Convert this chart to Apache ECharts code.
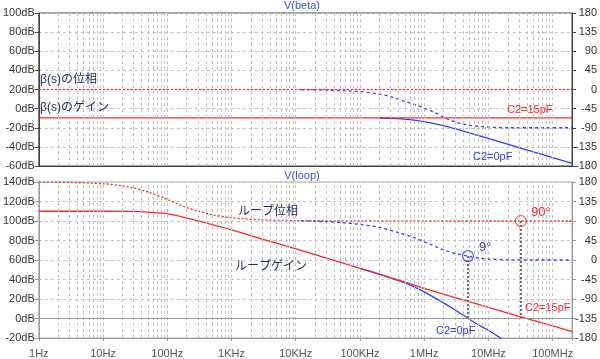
<!DOCTYPE html>
<html><head><meta charset="utf-8">
<script src="https://cdn.jsdelivr.net/npm/echarts@6/dist/echarts.min.js"></script>
<style>html,body{margin:0;padding:0;background:#fff}#c{width:600px;height:359px}</style>
</head><body><div id="c"></div>
<script>
// ---- axis ticks ----
const xTickValues = [1, 10, 100, 1e3, 1e4, 1e5, 1e6, 1e7, 1e8];
const xTickLabels = ['1Hz', '10Hz', '100Hz', '1KHz', '10KHz', '100KHz', '1MHz', '10MHz', '100MHz'];

// ---- top pane: V(beta) ----
const betaGain15F = [1, 2e8];
const betaGain15 = [-9.6, -9.6];
const betaPhase15F = [1, 2e8];
const betaPhase15 = [0, 0];
const betaGain0F = [2e5, 5e5, 1e6, 2e6, 5e6, 1e7, 2e7, 5e7, 1e8, 2e8];
const betaGain0 = [-9.8, -10.9, -13.5, -17.9, -25.3, -31.2, -37.2, -45.2, -51.2, -57.2];
const betaPhase0F = [1.2e4, 3e4, 1e5, 2e5, 3e5, 5e5, 8e5, 1e6, 1.5e6, 2e6, 3e6, 5e6, 1e7, 2e7, 2e8];
const betaPhase0 = [-0.5, -1.5, -5, -11, -17, -28, -38, -44, -55, -65, -76, -84, -88.5, -90, -90];

// ---- bottom pane: V(loop) ----
const loopGain15F = [1, 10, 30, 50, 100, 200, 300, 500, 1e3, 3e3, 1e4, 3e4, 1e5, 3e5, 1e6, 3e6, 1e7, 3e7, 1e8, 2e8];
const loopGain15 = [110, 110, 109.8, 109, 107.5, 103, 100.2, 96.3, 91, 81.5, 71.5, 62, 51.5, 42, 31, 21.5, 11.5, 2.2, -7.5, -13.5];
const loopPhase15F = [1, 3, 10, 20, 30, 50, 100, 200, 300, 500, 1e3, 3e3, 1e4, 1e5, 2e8];
const loopPhase15 = [180, 179, 176, 171, 166, 157, 140, 121, 113, 104.5, 97.5, 92.5, 91, 90.2, 90];
const loopGain0F = [1e5, 2e5, 5e5, 1e6, 2e6, 3e6, 5e6, 7e6, 1e7, 1.5e7, 1.7e7];
const loopGain0 = [51.4, 45.3, 36.5, 27.3, 16, 9, -0.5, -6.5, -12, -19.5, -22];
const loopPhase0F = [1.2e4, 3e4, 5e4, 1e5, 2e5, 4e5, 7e5, 1e6, 1.3e6, 2e6, 3e6, 4.8e6, 7e6, 1e7, 2e7, 5e7, 2e8];
const loopPhase0 = [90.3, 88.5, 86.5, 82, 75.5, 63, 51.5, 42, 35, 23.5, 15.5, 8.8, 4.5, 2.3, 0.5, 0, 0];

// ---- markers (unity-gain crossings) ----
const markerF = [4.8e6, 3.2e7];
const markerPhase = [9, 90];
const markerLabels = ['9°', '90°'];
const markerDropTo = -135; // 0 dB level on the phase axis

const RED = '#ff2626', BLUE = '#2f3cff', GRID = '#c2c2c2';
const FONT = '"Liberation Sans", Arial, "Noto Sans CJK JP", sans-serif';
const zip = (f, v) => f.map((x, i) => [x, v[i]]);

// vertical grid positions (decades and 2..9 multiples)
const vGrid = [];
for (let d = 1; d <= 1e8; d *= 10) for (let m = 1; m <= 9; m++) { const v = m * d; if (v > 1 && v < 2e8) vGrid.push(v); }
function gridMark(extraLines) {
  return {
    silent: true, symbol: ['none', 'none'], animation: false,
    label: { show: false },
    lineStyle: { type: [3, 3], color: GRID, width: 1 },
    data: vGrid.map(v => ({ xAxis: v })).concat(extraLines || [])
  };
}

function xAxisFor(gi, labels) {
  return {
    gridIndex: gi, type: 'log', logBase: 10, min: 1, max: 2e8,
    axisLine: { show: true, onZero: false, lineStyle: { color: gi === 0 ? '#444' : '#999' } },
    axisTick: { show: labels, length: 3, lineStyle: { color: '#999' } },
    splitLine: { show: false },
    axisLabel: {
      show: labels, color: '#555', fontSize: 11, fontFamily: FONT, margin: 10,
      formatter: v => {
        const k = Math.log10(v);
        if (Math.abs(k - Math.round(k)) > 1e-6) return '';
        const i = xTickValues.indexOf(Math.pow(10, Math.round(k)));
        return i >= 0 ? xTickLabels[i] : '';
      }
    }
  };
}
function yLeft(gi, min, max, dark) {
  return {
    gridIndex: gi, type: 'value', min, max, interval: 20, position: 'left',
    axisLine: { show: true, onZero: false, lineStyle: { color: dark ? '#444' : '#999' } },
    axisTick: { show: true, length: 4, lineStyle: { color: dark ? '#444' : '#999' } },
    axisLabel: { formatter: '{value}dB', color: '#333', fontSize: 11, fontFamily: FONT, margin: 4 },
    splitLine: { show: true, lineStyle: { type: [3, 3], color: GRID } }
  };
}
function yRight(gi, dark) {
  return {
    gridIndex: gi, type: 'value', min: -180, max: 180, interval: 45, position: 'right',
    axisLine: { show: true, onZero: false, lineStyle: { color: dark ? '#444' : '#999' } },
    axisTick: { show: true, length: 4, lineStyle: { color: dark ? '#444' : '#999' } },
    axisLabel: { color: '#333', fontSize: 11, fontFamily: FONT, align: 'right', margin: 25 },
    splitLine: { show: false }
  };
}
function line(name, xi, yi, data, color, type, extra) {
  return Object.assign({
    name, type: 'line', xAxisIndex: xi, yAxisIndex: yi, data,
    showSymbol: false, symbol: 'none', animation: false,
    lineStyle: { color, width: 1.3, type }, smooth: false, z: 3
  }, extra || {});
}

const chart = echarts.init(document.getElementById('c'), null, { renderer: 'canvas' });
const texts = [
  { x: 302, y: 6, t: 'V(beta)', c: '#3a4fe6', a: 'center', s: 11 },
  { x: 302, y: 176, t: 'V(loop)', c: '#3a4fe6', a: 'center', s: 11 },
  { x: 40, y: 80, t: 'β(s)の位相', c: '#1f2d5c', a: 'left', s: 12 },
  { x: 40, y: 108, t: 'β(s)のゲイン', c: '#1f2d5c', a: 'left', s: 12 },
  { x: 507, y: 110, t: 'C2=15pF', c: RED, a: 'left', s: 11 },
  { x: 473, y: 157, t: 'C2=0pF', c: BLUE, a: 'left', s: 11 },
  { x: 238, y: 212, t: 'ループ位相', c: '#1f2d5c', a: 'left', s: 12 },
  { x: 235, y: 267, t: 'ループゲイン', c: '#1f2d5c', a: 'left', s: 12 },
  { x: 531, y: 212, t: markerLabels[1], c: RED, a: 'left', s: 13 },
  { x: 479, y: 247, t: markerLabels[0], c: BLUE, a: 'left', s: 13 },
  { x: 525, y: 308, t: 'C2=15pF', c: RED, a: 'left', s: 11 },
  { x: 436, y: 331, t: 'C2=0pF', c: BLUE, a: 'left', s: 11 }
];

chart.setOption({
  animation: false,
  backgroundColor: '#fff',
  grid: [
    { left: 33, top: 13, width: 540, height: 153, show: true, borderColor: '#444', borderWidth: 1, containLabel: false },
    { left: 33, top: 182, width: 540, height: 158, show: true, borderColor: '#aaa', borderWidth: 1, containLabel: false }
  ],
  xAxis: [xAxisFor(0, false), xAxisFor(1, true)],
  yAxis: [yLeft(0, -60, 100, true), yRight(0, true), yLeft(1, -20, 140, false), yRight(1, false)],
  series: [
    // top pane
    line('beta gain C2=0pF', 0, 0, zip(betaGain0F, betaGain0), BLUE, 'solid', { markLine: gridMark(), smooth: 0.2 }),
    line('beta phase C2=0pF', 0, 1, zip(betaPhase0F, betaPhase0), BLUE, [3, 3], { smooth: 0.3 }),
    line('beta gain C2=15pF', 0, 0, zip(betaGain15F, betaGain15), RED, 'solid', { z: 4 }),
    line('beta phase C2=15pF', 0, 1, zip(betaPhase15F, betaPhase15), RED, [2, 2], { z: 4 }),
    // bottom pane
    line('loop gain C2=0pF', 1, 2, zip(loopGain0F, loopGain0), BLUE, 'solid', {
      smooth: 0.2,
      markLine: gridMark([{ yAxis: 0, lineStyle: { type: 'solid', color: '#9a9a9a', width: 1 } }])
    }),
    line('loop phase C2=0pF', 1, 3, zip(loopPhase0F, loopPhase0), BLUE, [3, 3], { z: 5, smooth: 0.3 }),
    line('loop gain C2=15pF', 1, 2, zip(loopGain15F, loopGain15), RED, 'solid', { z: 4, smooth: 0.2 }),
    line('loop phase C2=15pF', 1, 3, zip(loopPhase15F, loopPhase15), RED, [2, 2], { z: 4, smooth: 0.3 }),
    // drop lines from markers
    line('drop 0', 1, 3, [[markerF[0], markerPhase[0]], [markerF[0], markerDropTo]], '#666', [2, 2], { lineStyle: { color: '#666', width: 2, type: [2, 2] }, z: 2 }),
    line('drop 1', 1, 3, [[markerF[1], markerPhase[1]], [markerF[1], markerDropTo]], '#666', [2, 2], { lineStyle: { color: '#666', width: 2, type: [2, 2] }, z: 2 }),
    {
      type: 'scatter', xAxisIndex: 1, yAxisIndex: 3, animation: false, z: 6,
      symbol: 'circle', symbolSize: 11,
      data: markerF.map((f, i) => ({
        value: [f, markerPhase[i]],
        itemStyle: { color: 'rgba(255,255,255,0)', borderColor: i === 0 ? BLUE : RED, borderWidth: 1.2 }
      }))
    }
  ],
  graphic: texts.map(o => ({
    type: 'text', x: o.x, y: o.y, z: 100, silent: true,
    style: { text: o.t, fill: o.c, font: o.s + 'px ' + FONT, align: o.a, verticalAlign: 'middle' }
  }))
});
</script>
</body></html>
